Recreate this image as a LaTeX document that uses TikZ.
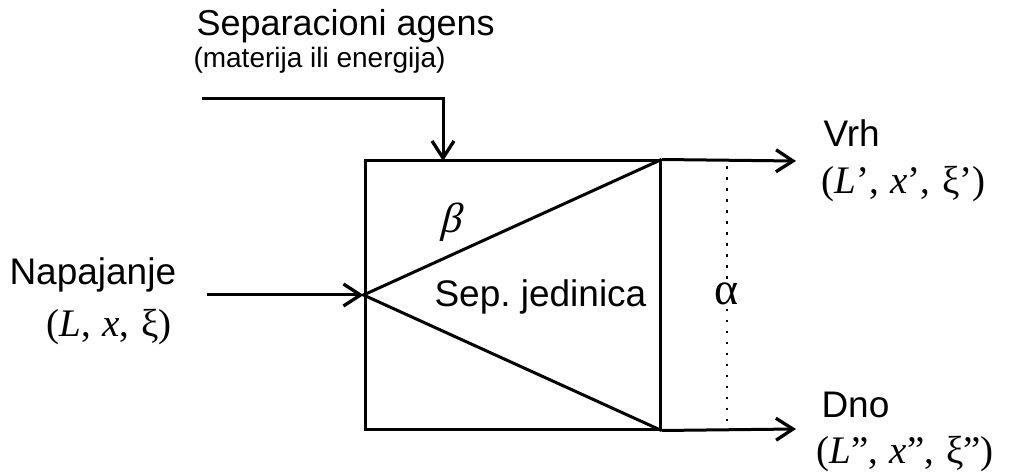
\documentclass[tikz,border=0pt]{standalone}
\usepackage{fontspec}
\setmainfont{Liberation Sans}
\newfontfamily\serif{Liberation Serif}
\usetikzlibrary{arrows.meta}
\newcommand{\gap}{\ \hspace{2pt}}
\begin{document}
\begin{tikzpicture}[x=1pt,y=-1pt,
  line width=3pt,
  arr/.style={-{Straight Barb[length=17pt,width=22pt,line width=3.3pt]}},
  lbl/.style={inner sep=0pt,anchor=base west,font=\fontsize{37}{40}\selectfont},
  sublbl/.style={inner sep=0pt,anchor=base west,font=\fontsize{28}{32}\selectfont},
  mathlbl/.style={inner sep=0pt,anchor=base west,font=\serif\fontsize{39}{44}\selectfont},
  greek/.style={inner sep=2pt,font=\serif\fontsize{46}{50}\selectfont},
  dotline/.style={line width=2.6pt,dash pattern=on 2.6pt off 8.4pt}]
\useasboundingbox (0,0) rectangle (1018,473);
% unit box
\node[draw,minimum width=295pt,minimum height=268pt,inner sep=0pt] (box) at (512.5,295) {};
\draw[line join=miter] (box.north east) -- (box.west) -- (box.south east);
\node[lbl] (sep) at (433,307) {Sep.\ jedinica};
\node[greek,xslant=0.25,font=\serif\fontsize{42}{46}\selectfont] (beta) at (453,222) {β};
% separating agent
\node[lbl,font=\fontsize{36}{40}\selectfont] (agens) at (195,36) {Separacioni agens};
\node[sublbl] (agsub) at (192,68) {(materija ili energija)};
\coordinate (agStart) at (202,99);
\coordinate (agIn) at (443,161);
\draw[arr] (agStart) -| (agIn);
% feed
\node[lbl] (feed) at (8,285) {Napajanje};
\node[mathlbl] (feedv) at (45,337) {(\textit{L},\gap\textit{x},\gap ξ)};
\coordinate (feedStart) at (207,295);
\draw[arr] (feedStart) -- (box.west);
% top product
\coordinate (vrhEnd) at (796,161);
\draw[arr] (box.north east) -- (vrhEnd);
\node[lbl] (vrh) at (822,147) {Vrh};
\node[mathlbl] (vrhv) at (820,194) {(\textit{L}’,\gap\textit{x}’,\gap ξ’)};
% bottom product
\coordinate (dnoEnd) at (796,429);
\draw[arr] (box.south east) -- (dnoEnd);
\node[lbl] (dno) at (820,417) {Dno};
\node[mathlbl] (dnov) at (815,463) {(\textit{L}”,\gap\textit{x}”,\gap ξ”)};
% alpha
\node[greek] (alpha) at (727,294) {α};
\coordinate (aTop) at (727,166);
\coordinate (aBot) at (727,424);
\draw[dotline] (aTop) -- (alpha.north);
\draw[dotline] (alpha.south) -- (aBot);
\end{tikzpicture}
\end{document}
